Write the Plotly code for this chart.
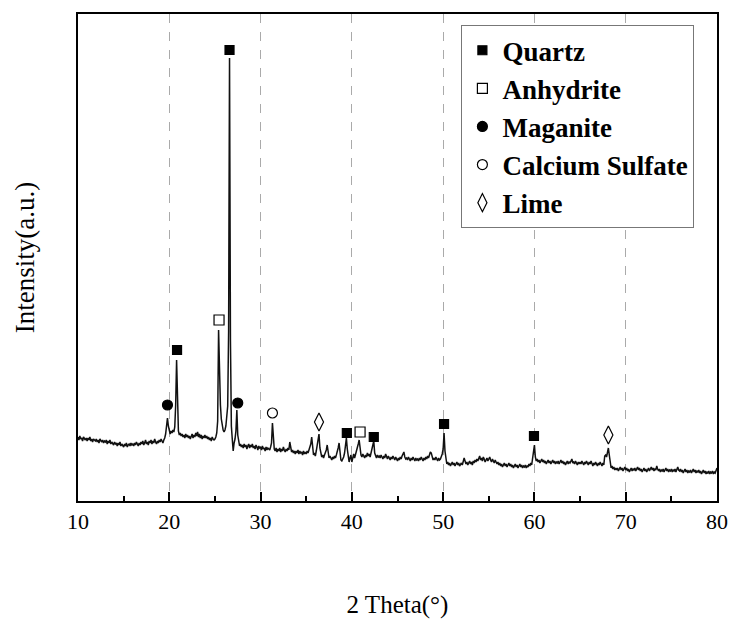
import plotly.graph_objects as go

# XRD pattern: intensity (a.u.) sampled every 0.1 degree from 10 to 80 (2 theta)
theta_start = 10.0
theta_step = 0.1
intensity = [
    64, 61, 65, 62, 63, 60, 64, 62, 61, 63,   # 10
    60, 63, 61, 64, 60, 62, 59, 62, 61, 60,   # 11
    62, 59, 61, 58, 62, 60, 59, 61, 58, 60,   # 12
    59, 61, 57, 60, 58, 61, 57, 59, 58, 56,   # 13
    59, 57, 58, 55, 58, 56, 59, 55, 57, 56,   # 14
    54, 57, 55, 58, 54, 56, 57, 55, 58, 56,   # 15
    57, 55, 58, 56, 59, 57, 55, 58, 56, 59,   # 16
    57, 60, 56, 58, 61, 57, 59, 56, 60, 58,   # 17
    61, 57, 60, 58, 62, 59, 57, 60, 58, 61,   # 18
    59, 62, 60, 58, 61, 63, 67, 76, 83, 75,   # 19
    69, 67, 70, 68, 71, 69, 74, 96, 141, 88,  # 20
    70, 66, 68, 65, 67, 64, 66, 63, 67, 64,   # 21
    66, 63, 65, 62, 64, 67, 63, 66, 64, 68,   # 22
    65, 69, 64, 67, 63, 66, 62, 65, 63, 66,   # 23
    63, 65, 62, 64, 61, 63, 60, 64, 62, 61,   # 24
    62, 64, 68, 80, 171, 128, 96, 82, 75, 71,  # 25
    69, 71, 75, 84, 95, 170, 443, 160, 75, 62, # 26
    50, 58, 62, 70, 91, 66, 58, 55, 57, 54,   # 27
    56, 53, 57, 54, 56, 52, 55, 57, 53, 56,   # 28
    54, 57, 53, 55, 52, 56, 54, 51, 55, 53,   # 29
    54, 51, 55, 52, 53, 50, 54, 51, 53, 52,   # 30
    51, 54, 58, 78, 62, 52, 50, 53, 49, 52,   # 31
    50, 53, 49, 52, 50, 54, 51, 49, 52, 50,   # 32
    53, 51, 59, 52, 49, 51, 48, 50, 47, 50,   # 33
    48, 51, 47, 50, 48, 49, 46, 50, 47, 49,   # 34
    47, 50, 48, 51, 54, 57, 64, 52, 46, 48,   # 35
    45, 50, 55, 58, 67, 53, 47, 44, 46, 43,   # 36
    46, 48, 51, 56, 48, 43, 45, 42, 41, 44,   # 37
    42, 45, 43, 46, 49, 53, 58, 47, 41, 40,   # 38
    42, 44, 48, 55, 63, 52, 41, 39, 43, 46,   # 39
    39, 44, 47, 43, 46, 49, 53, 57, 61, 50,   # 40
    46, 44, 47, 45, 43, 46, 44, 48, 45, 47,   # 41
    44, 48, 52, 56, 60, 48, 45, 43, 46, 44,   # 42
    45, 43, 46, 44, 42, 45, 43, 47, 44, 42,   # 43
    45, 43, 41, 44, 42, 45, 43, 41, 44, 42,   # 44
    40, 43, 41, 44, 42, 45, 47, 49, 44, 42,   # 45
    43, 41, 44, 42, 40, 43, 41, 44, 42, 40,   # 46
    43, 41, 42, 40, 43, 41, 44, 42, 40, 43,   # 47
    41, 44, 42, 45, 43, 46, 49, 48, 44, 41,   # 48
    43, 41, 44, 42, 40, 43, 41, 42, 44, 47,   # 49
    52, 68, 50, 40, 37, 39, 36, 38, 35, 37,   # 50
    39, 36, 38, 35, 37, 39, 36, 38, 35, 37,   # 51
    38, 36, 39, 43, 40, 37, 39, 36, 38, 40,   # 52
    37, 39, 36, 40, 38, 41, 39, 42, 40, 43,   # 53
    45, 41, 43, 40, 44, 42, 39, 41, 43, 40,   # 54
    42, 44, 41, 39, 42, 40, 38, 41, 39, 37,   # 55
    39, 36, 38, 35, 37, 34, 36, 38, 35, 37,   # 56
    34, 36, 38, 35, 37, 34, 36, 33, 35, 37,   # 57
    34, 36, 33, 35, 37, 34, 36, 33, 35, 34,   # 58
    36, 33, 35, 34, 37, 35, 38, 36, 42, 50,   # 59
    56, 44, 40, 42, 39, 41, 38, 40, 42, 39,   # 60
    41, 38, 40, 37, 39, 41, 38, 40, 37, 39,   # 61
    41, 38, 40, 37, 39, 38, 40, 37, 39, 41,   # 62
    38, 40, 37, 39, 36, 38, 40, 37, 39, 38,   # 63
    40, 42, 38, 39, 37, 40, 38, 36, 39, 37,   # 64
    39, 37, 40, 38, 36, 39, 37, 40, 38, 36,   # 65
    39, 37, 40, 38, 35, 38, 36, 39, 37, 35,   # 66
    38, 36, 39, 37, 35, 38, 36, 45, 46, 44,   # 67
    48, 53, 46, 38, 33, 35, 32, 34, 31, 33,   # 68
    31, 33, 30, 32, 34, 31, 33, 30, 32, 34,   # 69
    31, 33, 30, 32, 29, 31, 33, 30, 32, 31,   # 70
    33, 30, 32, 34, 31, 33, 30, 32, 29, 31,   # 71
    33, 30, 32, 29, 31, 33, 30, 32, 34, 31,   # 72
    33, 30, 32, 31, 35, 32, 30, 32, 29, 31,   # 73
    30, 32, 29, 31, 33, 30, 32, 29, 31, 30,   # 74
    32, 29, 31, 30, 32, 29, 31, 34, 31, 30,   # 75
    32, 29, 31, 28, 30, 32, 29, 31, 28, 30,   # 76
    29, 31, 28, 30, 32, 29, 31, 28, 30, 29,   # 77
    31, 28, 30, 27, 29, 31, 28, 30, 27, 29,   # 78
    28, 30, 27, 29, 28, 30, 27, 29, 28, 31,   # 79
    33,                                        # 80
]
theta = [round(theta_start + theta_step * i, 2) for i in range(len(intensity))]

# Phase markers (2 theta, marker height)
quartz_x = [20.85, 26.6, 39.45, 42.4, 50.1, 59.95]
quartz_y = [151, 451, 68, 64, 77, 65]
anhydrite_x = [25.45, 40.9]
anhydrite_y = [181, 69]
maganite_x = [19.8, 27.5]
maganite_y = [96, 98]
calcium_sulfate_x = [31.3]
calcium_sulfate_y = [88]
lime_x = [36.4, 68.1]
lime_y = [79, 66]

fig = go.Figure()
fig.add_trace(go.Scatter(x=theta, y=intensity, mode="lines",
                         line=dict(color="#111111", width=1.5),
                         showlegend=False, hoverinfo="skip"))

markers = [
    ("Quartz", quartz_x, quartz_y, "square", 9),
    ("Anhydrite", anhydrite_x, anhydrite_y, "square-open", 10),
    ("Maganite", maganite_x, maganite_y, "circle", 10),
    ("Calcium Sulfate", calcium_sulfate_x, calcium_sulfate_y, "circle-open", 10),
    ("Lime", lime_x, lime_y, "diamond-tall-open", 13),
]
for i, (name, xs, ys, sym, sz) in enumerate(markers):
    fig.add_trace(go.Scatter(
        x=xs, y=ys, mode="markers", name=name, legendgroup=f"g{i}",
        marker=dict(symbol=sym, size=sz, color="black",
                    line=dict(color="black", width=1.2)),
    ))

serif = "Liberation Serif, Times New Roman, serif"
fig.update_layout(
    width=740, height=626,
    margin=dict(l=78, r=17, t=14, b=125),
    plot_bgcolor="white", paper_bgcolor="white",
    font=dict(family=serif, color="black", size=20),
    legend=dict(
        x=0.600, y=0.977, xanchor="left", yanchor="top",
        bgcolor="white", bordercolor="#777777", borderwidth=1,
        font=dict(family=serif, size=27, color="black", weight="bold"),
        tracegroupgap=0, traceorder="normal", itemwidth=30,
    ),
    xaxis=dict(
        range=[10, 80], dtick=10, tick0=10,
        showline=True, linecolor="black", linewidth=2, mirror=True,
        ticks="inside", ticklen=9, tickwidth=1.5, tickcolor="black",
        minor=dict(dtick=5, tick0=10, ticks="inside", ticklen=5, tickcolor="black", tickwidth=1.5, showgrid=False),
        showgrid=True, gridcolor="#aaaaaa", gridwidth=1, griddash="dash",
        tickfont=dict(family=serif, size=22),
        title=dict(text="2 Theta(°)", font=dict(family=serif, size=25), standoff=62),
        zeroline=False,
    ),
    yaxis=dict(
        range=[0, 487],
        showline=True, linecolor="black", linewidth=2, mirror=True,
        showticklabels=False, ticks="", showgrid=False, zeroline=False,
        title=dict(text="Intensity(a.u.)", font=dict(family=serif, size=27), standoff=34),
    ),
)

fig.write_html("out.html")
